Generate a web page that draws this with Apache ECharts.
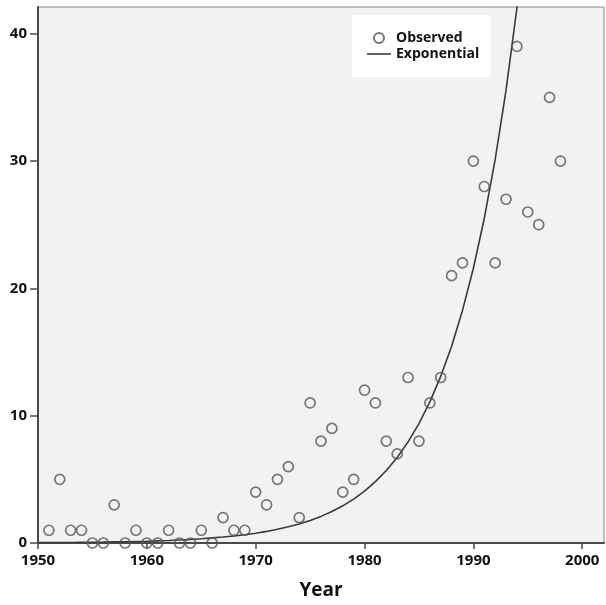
<!DOCTYPE html>
<html>
<head>
<meta charset="utf-8">
<script src="https://cdn.jsdelivr.net/npm/echarts@6/dist/echarts.min.js"></script>
<style>
  html, body { margin: 0; padding: 0; background: #ffffff; }
  #chart { width: 606px; height: 605px; }
</style>
</head>
<body>
<div id="chart"></div>
<script>
// Observed yearly counts
const years = [1951, 1952, 1953, 1954, 1955, 1956, 1957, 1958, 1959, 1960,
  1961, 1962, 1963, 1964, 1965, 1966, 1967, 1968, 1969, 1970,
  1971, 1972, 1973, 1974, 1975, 1976, 1977, 1978, 1979, 1980,
  1981, 1982, 1983, 1984, 1985, 1986, 1987, 1988, 1989, 1990,
  1991, 1992, 1993, 1994, 1995, 1996, 1997, 1998];
const observed = [1, 5, 1, 1, 0, 0, 3, 0, 1, 0,
  0, 1, 0, 0, 1, 0, 2, 1, 1, 4,
  3, 5, 6, 2, 11, 8, 9, 4, 5, 12,
  11, 8, 7, 13, 8, 11, 13, 21, 22, 30,
  28, 22, 27, 39, 26, 25, 35, 30];

// Fitted exponential curve, one value per year
const fitYears = [1950, 1951, 1952, 1953, 1954, 1955, 1956, 1957, 1958, 1959,
  1960, 1961, 1962, 1963, 1964, 1965, 1966, 1967, 1968, 1969,
  1970, 1971, 1972, 1973, 1974, 1975, 1976, 1977, 1978, 1979,
  1980, 1981, 1982, 1983, 1984, 1985, 1986, 1987, 1988, 1989,
  1990, 1991, 1992, 1993, 1994, 1995];
const fitted = [0.03, 0.03, 0.04, 0.04, 0.05, 0.06, 0.07, 0.09, 0.10, 0.12,
  0.14, 0.17, 0.20, 0.24, 0.28, 0.33, 0.40, 0.47, 0.55, 0.65,
  0.77, 0.91, 1.08, 1.27, 1.50, 1.77, 2.09, 2.47, 2.92, 3.45,
  4.08, 4.82, 5.69, 6.72, 7.94, 9.38, 11.08, 13.09, 15.46, 18.27,
  21.58, 25.49, 30.11, 35.57, 42.02, 49.64];

// Axis ticks
const xTicks = [1950, 1960, 1970, 1980, 1990, 2000];
const yTicks = [0, 10, 20, 30, 40];

const font = '"Open Sans", "Liberation Sans", sans-serif';
const axisColor = '#4a4a4a';
const lineColor = '#3a3a3a';

const chart = echarts.init(document.getElementById('chart'), null, { renderer: 'canvas' });

chart.setOption({
  animation: false,
  backgroundColor: '#ffffff',
  grid: {
    left: 38, right: 2, top: 7, bottom: 61,
    show: true,
    backgroundColor: '#f2f2f2',
    borderColor: '#8a8a8a',
    borderWidth: 1
  },
  legend: {
    left: 352, top: 15,
    orient: 'vertical',
    backgroundColor: '#ffffff',
    padding: [15, 11, 15, 15],
    itemWidth: 24,
    itemHeight: 10,
    itemGap: 0,
    textStyle: { fontFamily: font, fontWeight: 'bold', fontSize: 14, lineHeight: 16, color: '#111' },
    data: [
      { name: 'Observed' },
      { name: 'Exponential', icon: 'path://M0,0H24V1.6H0Z', itemStyle: { color: lineColor } }
    ]
  },
  xAxis: {
    type: 'value',
    min: 1950, max: 2002,
    name: 'Year',
    nameLocation: 'middle',
    nameGap: 38,
    nameTextStyle: { fontFamily: font, fontWeight: 'bold', fontSize: 19, color: '#111' },
    axisLine: { show: true, onZero: false, lineStyle: { color: axisColor, width: 2 } },
    axisTick: { show: true, length: 6, customValues: xTicks, lineStyle: { color: axisColor, width: 1.5 } },
    axisLabel: {
      customValues: xTicks, margin: 10,
      formatter: (v) => String(v),
      fontFamily: font, fontWeight: 'bold', fontSize: 15, color: '#111'
    },
    splitLine: { show: false }
  },
  yAxis: {
    type: 'value',
    min: 0, max: 42.1,
    axisLine: { show: true, lineStyle: { color: axisColor, width: 2 } },
    axisTick: { show: true, length: 8, customValues: yTicks, lineStyle: { color: axisColor, width: 1.5 } },
    axisLabel: {
      customValues: yTicks, margin: 11,
      formatter: (v) => String(v),
      fontFamily: font, fontWeight: 'bold', fontSize: 15, color: '#111'
    },
    splitLine: { show: false }
  },
  series: [
    {
      name: 'Observed',
      type: 'scatter',
      symbol: 'circle',
      symbolSize: 10,
      itemStyle: { color: 'rgba(0,0,0,0)', borderColor: '#555555', borderWidth: 1.7 },
      data: years.map((y, i) => [y, observed[i]]),
      z: 3
    },
    {
      name: 'Exponential',
      type: 'line',
      symbol: 'none',
      symbolKeepAspect: true,
      smooth: false,
      clip: true,
      lineStyle: { color: lineColor, width: 1.6 },
      itemStyle: { color: lineColor },
      data: fitYears.map((y, i) => [y, fitted[i]]),
      z: 2
    }
  ]
});
</script>
</body>
</html>
